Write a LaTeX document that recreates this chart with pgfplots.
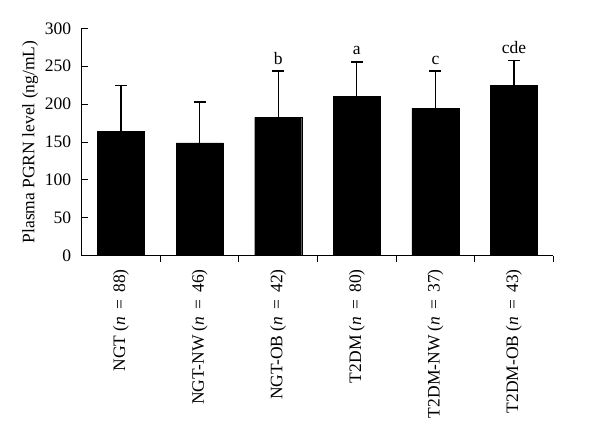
\documentclass[border=0pt]{standalone}
\usepackage{fontspec}
\setmainfont{Liberation Serif}
\usepackage{pgfplots}
\pgfplotsset{compat=1.18}
\newcommand{\nn}[1]{(\textit{n}\hspace{0.4em}=\hspace{0.4em}#1)}
\begin{document}
\begin{tikzpicture}
\path[use as bounding box] (0,0) rectangle (600pt,447pt);
\begin{axis}[
  at={(81.7pt,191.3pt)},anchor=south west,
  scale only axis,width=471.6pt,height=227.4pt,
  axis lines*=left,
  xmin=0.5,xmax=6.5,ymin=0,ymax=300,
  ytick={0,50,...,300},
  xtick={1.5,2.5,...,6.5},
  xticklabels={},
  extra x ticks={1,2,3,4,5,6},
  extra x tick labels={NGT \nn{88},NGT-NW \nn{46},NGT-OB \nn{42},
    T2DM \nn{80},T2DM-NW \nn{37},T2DM-OB \nn{43}},
  extra x tick style={major tick length=0pt,
    tick label style={rotate=90,anchor=east,xshift=-10pt}},
  major tick length=6pt,
  xtick align=inside,ytick align=inside,
  tick style={black,line width=0.9pt},
  axis line style={line width=0.9pt},
  /pgf/number format/assume math mode=true,
  tick label style={font=\fontsize{17.5}{20}\selectfont},
  y tick label style={xshift=-7pt},
  ylabel={Plasma PGRN level (ng/mL)},
  ylabel style={font=\fontsize{17.5}{20}\selectfont,yshift=0pt},
  ybar,bar width=47pt,
]
\addplot[fill=black,draw=black,
  error bars/.cd,y dir=plus,y explicit,
  error bar style={line width=1.2pt,black},
  error mark options={rotate=90,mark size=6pt,line width=1.2pt,black}]
  coordinates {
  (1,164.5) +- (0,60.3)
  (2,149.0) +- (0,53.8)
  (3,182.6) +- (0,61.1)
  (4,210.3) +- (0,45.2)
  (5,194.5) +- (0,49.2)
  (6,224.3) +- (0,33.0)};
\node[font=\fontsize{17.5}{20}\selectfont,anchor=base] at (axis cs:3,243.7) [yshift=6pt] {b};
\node[font=\fontsize{17.5}{20}\selectfont,anchor=base] at (axis cs:4,255.5) [yshift=8pt] {a};
\node[font=\fontsize{17.5}{20}\selectfont,anchor=base] at (axis cs:5,243.7) [yshift=6pt] {c};
\node[font=\fontsize{17.5}{20}\selectfont,anchor=base] at (axis cs:6,257.3) [yshift=7pt] {cde};
\end{axis}
\end{tikzpicture}
\end{document}
